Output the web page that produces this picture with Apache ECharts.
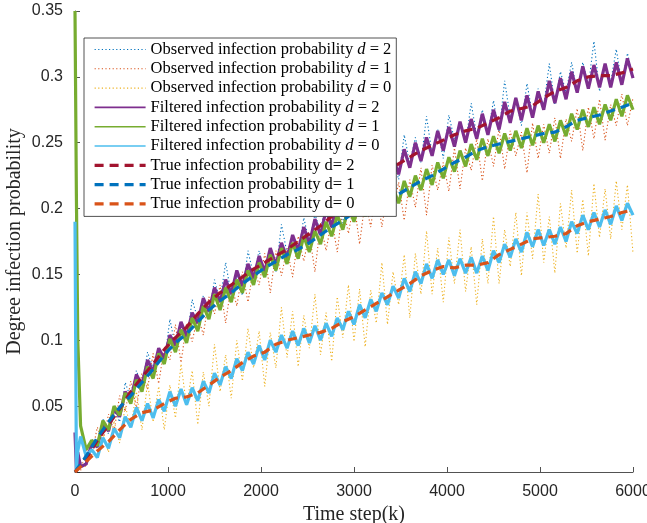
<!DOCTYPE html>
<html>
<head>
<meta charset="utf-8">
<script src="https://cdn.jsdelivr.net/npm/echarts@6/dist/echarts.min.js"></script>
<style>
  html, body { margin: 0; padding: 0; background: #fff; }
  #chart { width: 647px; height: 523px; }
</style>
</head>
<body>
<div id="chart"></div>
<script>
// time steps for the noisy (observed / filtered) curves
var noisyX = [0, 15, 30, 60,
    120, 180, 240, 300, 360, 420, 480, 540, 600, 660,
    720, 780, 840, 900, 960, 1020, 1080, 1140, 1200, 1260,
    1320, 1380, 1440, 1500, 1560, 1620, 1680, 1740, 1800, 1860,
    1920, 1980, 2040, 2100, 2160, 2220, 2280, 2340, 2400, 2460,
    2520, 2580, 2640, 2700, 2760, 2820, 2880, 2940, 3000, 3060,
    3120, 3180, 3240, 3300, 3360, 3420, 3480, 3540, 3600, 3660,
    3720, 3780, 3840, 3900, 3960, 4020, 4080, 4140, 4200, 4260,
    4320, 4380, 4440, 4500, 4560, 4620, 4680, 4740, 4800, 4860,
    4920, 4980, 5040, 5100, 5160, 5220, 5280, 5340, 5400, 5460,
    5520, 5580, 5640, 5700, 5760, 5820, 5880, 5940, 6000];

// time steps for the true curves
var trueX = [0, 120, 240, 360, 480, 600, 720, 840, 960, 1080,
    1200, 1320, 1440, 1560, 1680, 1800, 1920, 2040, 2160, 2280,
    2400, 2520, 2640, 2760, 2880, 3000, 3120, 3240, 3360, 3480,
    3600, 3720, 3840, 3960, 4080, 4200, 4320, 4440, 4560, 4680,
    4800, 4920, 5040, 5160, 5280, 5400, 5520, 5640, 5760, 5880,
    6000];

var observedD2 = [0, 0, 0.002,
    0.007, 0.006, 0.025, 0.021, 0.040, 0.029, 0.047, 0.038, 0.068, 0.056,
    0.077, 0.064, 0.091, 0.079, 0.094, 0.082, 0.116, 0.095, 0.111, 0.098,
    0.131, 0.116, 0.134, 0.119, 0.146, 0.130, 0.159, 0.134, 0.149, 0.134,
    0.168, 0.149, 0.168, 0.150, 0.168, 0.152, 0.188, 0.166, 0.180, 0.165,
    0.193, 0.174, 0.196, 0.182, 0.209, 0.185, 0.204, 0.189, 0.220, 0.206,
    0.235, 0.208, 0.228, 0.211, 0.241, 0.222, 0.238, 0.222, 0.256, 0.234,
    0.254, 0.235, 0.270, 0.241, 0.260, 0.238, 0.271, 0.252, 0.265, 0.249,
    0.280, 0.255, 0.275, 0.257, 0.282, 0.258, 0.297, 0.269, 0.284, 0.263,
    0.295, 0.271, 0.291, 0.278, 0.310, 0.279, 0.304, 0.288, 0.311, 0.288,
    0.311, 0.293, 0.327, 0.289, 0.309, 0.296, 0.321, 0.295, 0.318, 0.300];

var observedD1 = [0, 0, 0.002,
    0.001, 0.017, 0.013, 0.034, 0.023, 0.044, 0.031, 0.058, 0.046, 0.069,
    0.049, 0.075, 0.063, 0.090, 0.067, 0.095, 0.085, 0.112, 0.083, 0.113,
    0.099, 0.119, 0.104, 0.133, 0.120, 0.142, 0.113, 0.143, 0.126, 0.152,
    0.129, 0.155, 0.142, 0.166, 0.136, 0.168, 0.149, 0.170, 0.148, 0.179,
    0.160, 0.181, 0.152, 0.189, 0.168, 0.192, 0.167, 0.202, 0.181, 0.205,
    0.173, 0.206, 0.186, 0.216, 0.186, 0.214, 0.198, 0.220, 0.191, 0.222,
    0.201, 0.231, 0.195, 0.233, 0.214, 0.235, 0.213, 0.246, 0.215, 0.246,
    0.229, 0.253, 0.221, 0.253, 0.232, 0.261, 0.230, 0.259, 0.240, 0.258,
    0.227, 0.265, 0.238, 0.264, 0.242, 0.269, 0.238, 0.268, 0.251, 0.276,
    0.244, 0.277, 0.253, 0.283, 0.252, 0.279, 0.263, 0.287, 0.263, 0.284];

var observedD0 = [0, 0, 0.002,
    0.006, 0.004, 0.018, 0.011, 0.029, 0.015, 0.039, 0.022, 0.050, 0.034,
    0.061, 0.032, 0.068, 0.038, 0.065, 0.032, 0.066, 0.041, 0.082, 0.050,
    0.077, 0.036, 0.076, 0.050, 0.097, 0.061, 0.089, 0.056, 0.100, 0.069,
    0.109, 0.079, 0.107, 0.065, 0.106, 0.079, 0.125, 0.087, 0.122, 0.080,
    0.119, 0.094, 0.135, 0.089, 0.121, 0.084, 0.133, 0.102, 0.142, 0.099,
    0.139, 0.095, 0.138, 0.113, 0.159, 0.112, 0.152, 0.127, 0.165, 0.117,
    0.166, 0.135, 0.183, 0.135, 0.170, 0.129, 0.178, 0.143, 0.184, 0.137,
    0.171, 0.127, 0.177, 0.143, 0.194, 0.143, 0.184, 0.156, 0.197, 0.149,
    0.197, 0.162, 0.211, 0.159, 0.194, 0.151, 0.204, 0.170, 0.214, 0.166,
    0.207, 0.164, 0.219, 0.178, 0.215, 0.177, 0.221, 0.184, 0.218, 0.166];

var filteredD2 = [0.030, 0.002, 0.015, 0.004,
    0.006, 0.022, 0.019, 0.037, 0.031, 0.048, 0.042, 0.061, 0.055, 0.074,
    0.066, 0.085, 0.076, 0.094, 0.086, 0.104, 0.096, 0.114, 0.103, 0.121,
    0.113, 0.132, 0.122, 0.140, 0.129, 0.146, 0.135, 0.153, 0.141, 0.158,
    0.147, 0.164, 0.152, 0.170, 0.157, 0.174, 0.162, 0.180, 0.168, 0.186,
    0.173, 0.192, 0.180, 0.199, 0.186, 0.206, 0.194, 0.214, 0.202, 0.221,
    0.208, 0.227, 0.214, 0.233, 0.220, 0.239, 0.226, 0.245, 0.231, 0.250,
    0.236, 0.254, 0.240, 0.259, 0.244, 0.262, 0.247, 0.266, 0.250, 0.268,
    0.253, 0.272, 0.256, 0.275, 0.260, 0.281, 0.265, 0.284, 0.267, 0.286,
    0.269, 0.289, 0.275, 0.297, 0.280, 0.299, 0.283, 0.304, 0.288, 0.308,
    0.291, 0.309, 0.292, 0.310, 0.292, 0.311, 0.294, 0.314, 0.299];

var filteredD1 = [0.350, 0.210, 0.100, 0.035,
    0.017, 0.024, 0.020, 0.039, 0.032, 0.050, 0.043, 0.060, 0.052, 0.070,
    0.061, 0.080, 0.071, 0.090, 0.082, 0.101, 0.091, 0.108, 0.098, 0.117,
    0.107, 0.126, 0.116, 0.135, 0.123, 0.140, 0.129, 0.146, 0.136, 0.153,
    0.142, 0.159, 0.148, 0.165, 0.153, 0.170, 0.158, 0.174, 0.162, 0.179,
    0.167, 0.183, 0.173, 0.190, 0.179, 0.195, 0.184, 0.201, 0.190, 0.206,
    0.194, 0.209, 0.197, 0.213, 0.200, 0.216, 0.204, 0.221, 0.209, 0.225,
    0.214, 0.230, 0.218, 0.235, 0.223, 0.239, 0.228, 0.244, 0.232, 0.249,
    0.237, 0.253, 0.240, 0.255, 0.242, 0.257, 0.244, 0.259, 0.246, 0.261,
    0.248, 0.263, 0.250, 0.264, 0.251, 0.267, 0.255, 0.272, 0.260, 0.275,
    0.262, 0.277, 0.264, 0.279, 0.267, 0.283, 0.270, 0.286, 0.275];

var filteredD0 = [0.190, 0.002, 0.016, 0.027,
    0.012, 0.017, 0.011, 0.026, 0.018, 0.033, 0.026, 0.042, 0.034, 0.049,
    0.039, 0.052, 0.041, 0.055, 0.046, 0.061, 0.050, 0.063, 0.051, 0.064,
    0.054, 0.069, 0.060, 0.075, 0.066, 0.080, 0.071, 0.086, 0.077, 0.091,
    0.082, 0.096, 0.085, 0.100, 0.091, 0.104, 0.094, 0.107, 0.096, 0.109,
    0.098, 0.111, 0.100, 0.113, 0.103, 0.117, 0.108, 0.122, 0.112, 0.127,
    0.117, 0.131, 0.122, 0.136, 0.127, 0.141, 0.132, 0.147, 0.137, 0.152,
    0.143, 0.158, 0.147, 0.161, 0.150, 0.161, 0.149, 0.162, 0.151, 0.163,
    0.151, 0.164, 0.153, 0.168, 0.159, 0.173, 0.163, 0.177, 0.167, 0.182,
    0.171, 0.184, 0.172, 0.184, 0.173, 0.186, 0.175, 0.190, 0.181, 0.195,
    0.184, 0.197, 0.186, 0.199, 0.188, 0.202, 0.191, 0.204, 0.195];

var trueD2 = [0, 0.010, 0.024, 0.036, 0.048, 0.061, 0.072, 0.082, 0.093, 0.102,
    0.110, 0.120, 0.129, 0.136, 0.142, 0.148, 0.154, 0.159, 0.164, 0.169,
    0.175, 0.181, 0.187, 0.194, 0.202, 0.210, 0.216, 0.222, 0.228, 0.234,
    0.239, 0.244, 0.248, 0.252, 0.256, 0.259, 0.261, 0.265, 0.269, 0.274,
    0.276, 0.278, 0.284, 0.289, 0.292, 0.297, 0.300, 0.301, 0.301, 0.303,
    0.306];

var trueD1 = [0, 0.012, 0.026, 0.038, 0.049, 0.058, 0.068, 0.078, 0.089, 0.098,
    0.105, 0.114, 0.123, 0.130, 0.136, 0.143, 0.149, 0.155, 0.160, 0.165,
    0.169, 0.174, 0.180, 0.186, 0.191, 0.197, 0.201, 0.204, 0.207, 0.211,
    0.216, 0.221, 0.225, 0.230, 0.235, 0.239, 0.244, 0.247, 0.249, 0.251,
    0.253, 0.255, 0.257, 0.258, 0.262, 0.267, 0.269, 0.271, 0.274, 0.277,
    0.280];

var trueD0 = [0, 0.008, 0.016, 0.023, 0.032, 0.040, 0.045, 0.047, 0.052, 0.056,
    0.057, 0.060, 0.066, 0.072, 0.077, 0.083, 0.088, 0.091, 0.097, 0.100,
    0.102, 0.104, 0.106, 0.109, 0.114, 0.118, 0.123, 0.128, 0.133, 0.138,
    0.143, 0.149, 0.153, 0.156, 0.155, 0.157, 0.157, 0.159, 0.165, 0.169,
    0.173, 0.177, 0.178, 0.179, 0.181, 0.187, 0.190, 0.192, 0.194, 0.197,
    0.199];

;(function () {
    var axisColor = '#262626';
    var serif = '"Liberation Serif", "DejaVu Serif", serif';
    var sans = '"Liberation Sans", Arial, sans-serif';

    function pairs(xs, ys) {
        return xs.map(function (x, i) { return [x, ys[i]]; });
    }

    // legendWidth: how thick the line looks in the legend key
    function line(name, xs, ys, color, width, type, legendWidth) {
        return {
            name: name,
            type: 'line',
            data: pairs(xs, ys),
            symbol: 'none',
            showSymbol: false,
            animation: false,
            lineStyle: { color: color, width: width, type: type },
            itemStyle: { color: color },
            emphasis: { disabled: true },
            legendWidth: legendWidth
        };
    }

    var dotted = [1.2, 2.4];
    var dashed = [9, 6];

    var series = [
        line('Observed infection probability d = 2', noisyX, observedD2, '#0072BD', 1.1, dotted, 1.1),
        line('Observed infection probability d = 1', noisyX, observedD1, '#D95319', 1.1, dotted, 1.1),
        line('Observed infection probability d = 0', noisyX, observedD0, '#EDB120', 1.1, dotted, 1.1),
        line('Filtered infection probability d = 2', noisyX, filteredD2, '#7E2F8E', 3.2, 'solid', 1.6),
        line('Filtered infection probability d = 1', noisyX, filteredD1, '#77AC30', 3.2, 'solid', 1.6),
        line('Filtered infection probability d = 0', noisyX, filteredD0, '#4DBEEE', 3.2, 'solid', 1.6),
        line('True infection probability d= 2', trueX, trueD2, '#A2142F', 3.2, dashed, 3.2),
        line('True infection probability d= 1', trueX, trueD1, '#0072BD', 3.2, dashed, 3.2),
        line('True infection probability d= 0', trueX, trueD0, '#D95319', 3.2, dashed, 3.2)
    ];

    var legendData = series.map(function (s) {
        return {
            name: s.name,
            lineStyle: { width: s.legendWidth, color: s.lineStyle.color, type: s.lineStyle.type },
            itemStyle: { opacity: 0 }
        };
    });

    var chart = echarts.init(document.getElementById('chart'), null, { renderer: 'canvas' });
    chart.setOption({
        backgroundColor: '#fff',
        animation: false,
        grid: { left: 75, right: 14, top: 11, bottom: 51, containLabel: false, outerBoundsMode: 'none' },
        legend: {
            orient: 'vertical',
            left: 84,
            top: 38,
            padding: [3, 5, 4, 9],
            itemWidth: 51,
            itemHeight: 14,
            itemGap: 2.3,
            backgroundColor: '#fff',
            borderColor: axisColor,
            borderWidth: 0.8,
            borderRadius: 0,
            selectedMode: false,
            itemStyle: { opacity: 0 },
            data: legendData,
            formatter: function (name) {
                return name.replace(/ d = (\d)$/, ' {i|d} = $1');
            },
            textStyle: {
                fontFamily: serif,
                fontSize: 16.5,
                lineHeight: 16.5,
                color: '#000',
                rich: {
                    i: { fontFamily: serif, fontSize: 16.5, lineHeight: 16.5, fontStyle: 'italic', color: '#000' }
                }
            }
        },
        xAxis: {
            type: 'value',
            min: 0,
            max: 6000,
            interval: 1000,
            name: 'Time step(k)',
            nameLocation: 'middle',
            nameGap: 33,
            nameMoveOverlap: false,
            nameTextStyle: { fontFamily: serif, fontSize: 20, color: axisColor },
            axisLine: { lineStyle: { color: axisColor, width: 0.8 } },
            axisTick: { inside: true, length: 5, lineStyle: { color: axisColor, width: 0.8 } },
            axisLabel: {
                fontFamily: sans, fontSize: 16, color: axisColor, margin: 12,
                formatter: function (v) { return String(v); }
            },
            splitLine: { show: false }
        },
        yAxis: {
            type: 'value',
            min: 0,
            max: 0.35,
            interval: 0.05,
            name: 'Degree infection probability',
            nameLocation: 'middle',
            nameGap: 50,
            nameMoveOverlap: false,
            nameTextStyle: { fontFamily: serif, fontSize: 20, color: axisColor },
            axisLine: { show: true, lineStyle: { color: axisColor, width: 0.8 } },
            axisTick: { show: true, inside: true, length: 5, lineStyle: { color: axisColor, width: 0.8 } },
            axisLabel: {
                fontFamily: sans, fontSize: 16, color: axisColor, margin: 12,
                formatter: function (v) { return v === 0 ? '' : String(+v.toFixed(2)); }
            },
            splitLine: { show: false }
        },
        series: series
    });
})();
</script>
</body>
</html>
